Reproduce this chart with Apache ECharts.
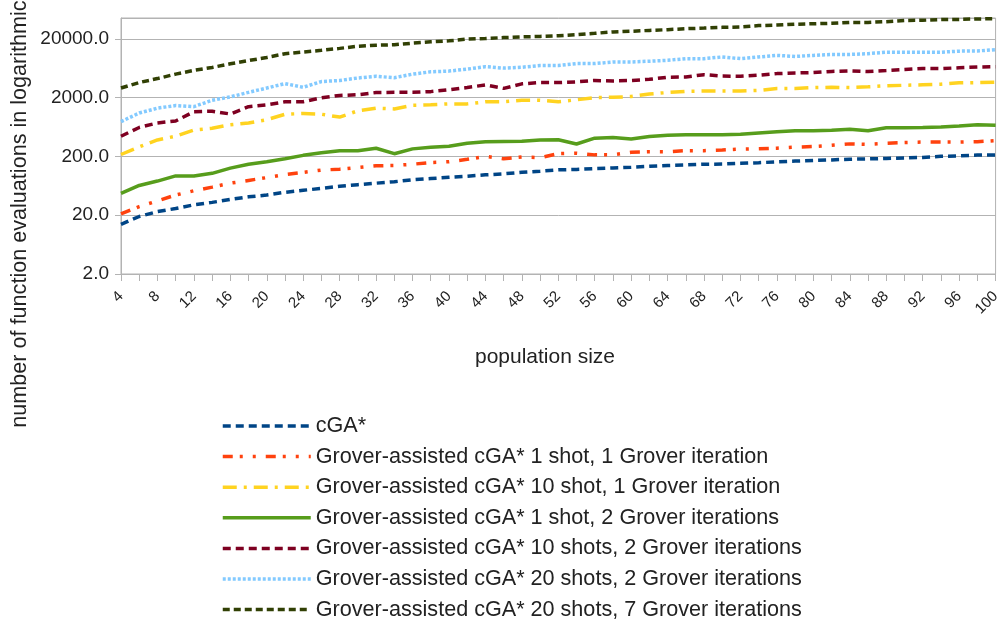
<!DOCTYPE html>
<html>
<head>
<meta charset="utf-8">
<script src="https://cdn.jsdelivr.net/npm/echarts@6/dist/echarts.min.js"></script>
<style>
html,body{margin:0;padding:0;background:#fff;}
#chart{width:1003px;height:620px;}
</style>
</head>
<body>
<div id="chart"></div>
<script>
const populationSizes = [4,6,8,10,12,14,16,18,20,22,24,26,28,30,32,34,36,38,40,42,44,46,48,50,52,54,56,58,60,62,64,66,68,70,72,74,76,78,80,82,84,86,88,90,92,94,96,98,100];

const cga = [14,19,23,26,30,33,37,41,44, 49,53,57,62,66,70,74,80, 84,88,92,97,101,107,112,118, 120,124,127,131,136,140,143,147, 148,152,156,161,166,170,174,179, 181,184,188,192,200,204,210,212];
const g1shot1it = [21,28,35,44,52,60,70,78,87, 98,107,117,121,129,138,140,147, 157,162,178,200,182,195,190,222, 226,212,212,235,240,240,250,250, 257,266,269,275,287,294,308,326, 320,333,344,350,350,350,355,370];
const g10shot1it = [215,290,380,440,560,600,690,740,840, 1040,1070,1040,930,1190,1320,1280,1480, 1506,1560,1560,1690,1700,1800,1800,1700, 1830,2000,2020,2080,2300,2430,2550,2580, 2580,2580,2640,2850,2850,2950,2990,2950, 3040,3170,3230,3300,3370,3560,3590,3640];
const g1shot2it = [47,64,76,93,93,103,126,147,162, 182,208,230,250,249,275,222,268, 286,298,333,353,357,360,378,382, 324,408,417,396,434,458,465,465, 465,474,500,524,546,546,557,580, 546,615,615,620,630,655,687,675];
const g10shot2it = [440,620,740,800,1150,1170,1050,1400,1500, 1690,1700,1980,2170,2230,2430,2450,2450, 2520,2710,2960,3270,2860,3420,3590,3590, 3690,3900,3820,3900,4080,4430,4470,4900, 4640,4600,4800,5100,5240,5310,5550,5680, 5550,5760,5990,6230,6200,6420,6600,6700];
const g20shot2it = [780,1090,1320,1460,1400,1800,2050,2450,2900, 3450,2990,3740,3900,4300,4600,4340,5000, 5480,5630,6080,6700,6330,6550,7000,7000, 7550,7550,8050,8050,8300,8580,9170,9170, 9800,9170,9800,10400,10000,10400,10800,10800, 11150,11800,11800,11800,11800,12300,12400,13000];
const g20shot7it = [2900,3600,4200,5000,5800,6500,7500,8500,9600, 11100,11900,12700,13700,14900,15500,15800,16800, 17700,18400,19700,20200,20900,21500,21900,22500, 23400,24700,26100,26800,27700,28500,29600,30300, 31200,31700,33400,34100,35300,35900,36600,37900, 37900,39000,40800,41200,42300,42600,43400,43800];

const seriesNames = [
  'cGA*',
  'Grover-assisted cGA* 1 shot, 1 Grover iteration',
  'Grover-assisted cGA* 10 shot, 1 Grover iteration',
  'Grover-assisted cGA* 1 shot, 2 Grover iterations',
  'Grover-assisted cGA* 10 shots, 2 Grover iterations',
  'Grover-assisted cGA* 20 shots, 2 Grover iterations',
  'Grover-assisted cGA* 20 shots, 7 Grover iterations'
];
const seriesData = [cga, g1shot1it, g10shot1it, g1shot2it, g10shot2it, g20shot2it, g20shot7it];
const colors = ['#004586','#ff420e','#ffd320','#579d1c','#7e0021','#83caff','#314004'];
const dashes = [[8,5],[10,7,3,10,3,10],[14,7,3,7],'solid',[8,5],[3,2],[7,4]];

const FONT = 'Liberation Sans, Arial, sans-serif';
const chart = echarts.init(document.getElementById('chart'));

chart.setOption({
  animation: false,
  backgroundColor: '#ffffff',
  color: colors,
  grid: {left: 121, right: 2, top: 18, bottom: 346, show: true, borderColor: '#b3b3b3', borderWidth: 1},
  xAxis: {
    type: 'category',
    data: populationSizes.map(String),
    boundaryGap: false,
    axisLine: {lineStyle: {color: '#b3b3b3', width: 1}},
    axisTick: {show: true, interval: 0, length: 7, lineStyle: {color: '#b3b3b3'}},
    axisLabel: {interval: 1, rotate: 45, fontSize: 15, color: '#222', fontFamily: FONT, margin: 20},
    splitLine: {show: false}
  },
  yAxis: {
    type: 'log',
    logBase: 10,
    min: 2,
    max: 45000,
    interval: 1,
    axisLine: {show: true, lineStyle: {color: '#b3b3b3', width: 1}},
    axisTick: {show: true, length: 6, lineStyle: {color: '#b3b3b3'}},
    axisLabel: {
      fontSize: 19, color: '#222', fontFamily: FONT, margin: 12, showMaxLabel: false,
      formatter: function (v) {
        const r = Math.log10(v / 2);
        return Math.abs(r - Math.round(r)) < 0.02 ? (2 * Math.pow(10, Math.round(r))).toFixed(1) : '';
      }
    },
    splitLine: {show: true, lineStyle: {color: '#b3b3b3', width: 1}},
    minorTick: {show: false}
  },
  legend: {
    orient: 'vertical',
    left: 221,
    top: 415,
    height: 230,
    padding: 0,
    itemWidth: 88,
    itemHeight: 14,
    itemGap: 8.6,
    itemStyle: {opacity: 0},
    lineStyle: {width: 3.5},
    textStyle: {fontSize: 21.6, color: '#222', fontFamily: FONT},
    data: seriesNames
  },
  graphic: [
    {type: 'text', silent: true, x: 545, y: 357,
     style: {text: 'population size', fontSize: 21, fontFamily: FONT, fill: '#222', align: 'center', verticalAlign: 'middle'}},
    {type: 'text', silent: true, rotation: Math.PI / 2, x: 20, y: 214,
     style: {text: 'number of function evaluations in logarithmic', fontSize: 21.6, fontFamily: FONT, fill: '#222', align: 'center', verticalAlign: 'middle'}}
  ],
  series: seriesNames.map((name, i) => ({
    name: name,
    type: 'line',
    data: seriesData[i],
    symbol: 'none',
    showSymbol: false,
    lineStyle: {color: colors[i], width: 3.5, type: dashes[i]},
    itemStyle: {color: colors[i]},
    z: 10 - i
  }))
});
</script>
</body>
</html>
